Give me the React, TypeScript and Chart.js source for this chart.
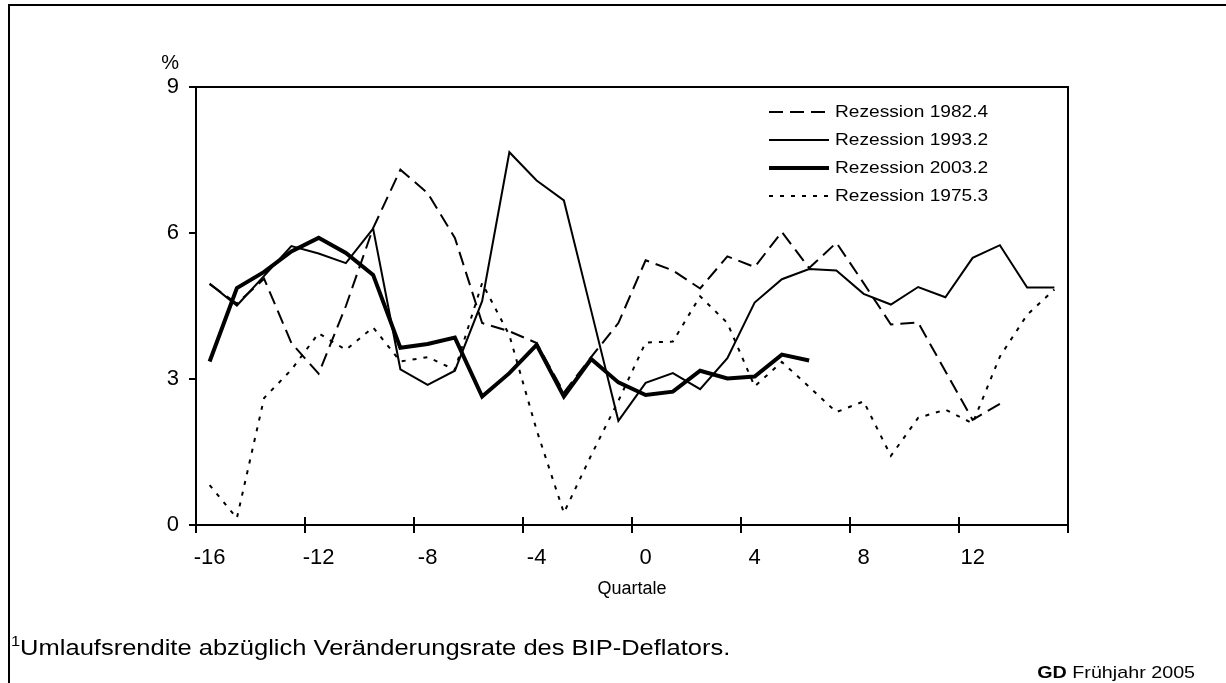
import React, { useEffect, useRef } from 'react';
import { Chart, registerables } from 'chart.js';

Chart.register(...registerables);

const FAMILY = "'Liberation Sans', Arial, sans-serif";

// Quarters relative to the recession (-16 .. 15)
const quarters = [
  -16, -15, -14, -13, -12, -11, -10, -9, -8, -7, -6, -5, -4, -3, -2, -1,
  0, 1, 2, 3, 4, 5, 6, 7, 8, 9, 10, 11, 12, 13, 14, 15,
];
const xTickLabels = ['-16', '-12', '-8', '-4', '0', '4', '8', '12', ''];
const yTicks = [0, 3, 6, 9];
const yUnit = '%';
const xTitle = 'Quartale';

const rez1982 = [
  4.95, 4.55, 5.06, 3.74, 3.11, 4.5, 6.1, 7.3, 6.82, 5.9, 4.15, 3.98, 3.74, 2.72, 3.45, 4.15,
  5.44, 5.23, 4.86, 5.52, 5.3, 6.02, 5.28, 5.8, 4.97, 4.12, 4.16, 3.16, 2.16, 2.49, null, null,
];
const rez1993 = [
  4.96, 4.51, 5.12, 5.73, 5.58, 5.38, 6.09, 3.2, 2.88, 3.17, 4.6, 7.66, 7.08, 6.67, 4.41, 2.14,
  2.92, 3.12, 2.79, 3.43, 4.57, 5.05, 5.26, 5.23, 4.75, 4.53, 4.89, 4.68, 5.49, 5.75, 4.88, 4.88,
];
const rez2003 = [
  3.36, 4.87, 5.2, 5.62, 5.9, 5.59, 5.14, 3.64, 3.72, 3.85, 2.64, 3.12, 3.7, 2.64, 3.41, 2.93,
  2.67, 2.74, 3.17, 3.01, 3.05, 3.5, 3.38, null, null, null, null, null, null, null, null, null,
];
const rez1975 = [
  0.82, 0.14, 2.61, 3.19, 3.94, 3.6, 4.06, 3.36, 3.45, 3.19, 4.97, 3.9, 1.95, 0.25, 1.43, 2.55,
  3.75, 3.77, 4.7, 4.15, 2.85, 3.35, 2.84, 2.32, 2.54, 1.42, 2.2, 2.37, 2.09, 3.46, 4.32, 4.84,
];

const toPoints = (vals: (number | null)[]) =>
  quarters
    .map((q, i) => ({ x: q, y: vals[i] }))
    .filter((p) => p.y !== null && p.y !== undefined);

const xTickValues = xTickLabels.map((l) => (l === '' ? 15.5 : Number(l) - 0.5));

const decorPlugin = {
  id: 'decor',
  afterDraw(chart: any) {
    const { ctx, chartArea: a, scales } = chart;
    ctx.save();
    ctx.strokeStyle = '#000';
    ctx.lineWidth = 2;
    ctx.setLineDash([]);
    ctx.strokeRect(a.left, a.top, a.right - a.left, a.bottom - a.top);
    const xs = scales.x;
    xs.ticks.forEach((t: any) => {
      const px = Math.round(xs.getPixelForValue(t.value));
      ctx.beginPath();
      ctx.moveTo(px, a.bottom);
      ctx.lineTo(px, a.bottom - 8);
      ctx.stroke();
    });
    ctx.fillStyle = '#000';
    ctx.font = `20px ${FAMILY}`;
    ctx.textAlign = 'right';
    ctx.textBaseline = 'middle';
    ctx.fillText(yUnit, a.left - 17, scales.y.getPixelForValue(9) - 24);

    chart.data.datasets.forEach((ds: any, i: number) => {
      const y = a.top + 25 + 28 * i;
      ctx.beginPath();
      ctx.lineWidth = ds.borderWidth;
      ctx.setLineDash(ds.borderDash || []);
      ctx.moveTo(a.right - 299, y);
      ctx.lineTo(a.right - 239, y);
      ctx.stroke();
      ctx.setLineDash([]);
      ctx.save();
      ctx.translate(a.right - 233, y);
      ctx.scale(1.16, 1);
      ctx.font = `16.5px ${FAMILY}`;
      ctx.textAlign = 'left';
      ctx.textBaseline = 'middle';
      ctx.fillText(ds.label, 0, 0);
      ctx.restore();
    });
    ctx.restore();
  },
};

export default function App() {
  const ref = useRef<HTMLCanvasElement | null>(null);

  useEffect(() => {
    if (!ref.current) return;
    Chart.defaults.font.family = FAMILY;
    Chart.defaults.color = '#000';
    const chart = new Chart(ref.current, {
      type: 'line',
      data: {
        datasets: [
          {
            label: 'Rezession 1982.4',
            data: toPoints(rez1982),
            borderColor: '#000',
            borderWidth: 2,
            borderDash: [14, 7],
            pointRadius: 0,
            order: 1,
          },
          {
            label: 'Rezession 1993.2',
            data: toPoints(rez1993),
            borderColor: '#000',
            borderWidth: 2,
            pointRadius: 0,
            order: 1,
          },
          {
            label: 'Rezession 2003.2',
            data: toPoints(rez2003),
            borderColor: '#000',
            borderWidth: 4,
            pointRadius: 0,
            order: 0,
          },
          {
            label: 'Rezession 1975.3',
            data: toPoints(rez1975),
            borderColor: '#000',
            borderWidth: 2,
            borderDash: [4, 7],
            pointRadius: 0,
            order: 1,
          },
        ],
      },
      options: {
        responsive: false,
        animation: false,
        devicePixelRatio: 1,
        layout: { padding: { left: 100, right: 158, top: 87, bottom: 78 } },
        plugins: { legend: { display: false }, tooltip: { enabled: false } },
        elements: { line: { tension: 0 } },
        scales: {
          x: {
            type: 'linear',
            min: -16.5,
            max: 15.5,
            afterBuildTicks: (s: any) => {
              s.ticks = xTickValues.map((v) => ({ value: v }));
            },
            afterFit: (s: any) => {
              s.height = 80;
            },
            ticks: {
              autoSkip: false,
              maxRotation: 0,
              labelOffset: 13.625,
              padding: 12,
              color: '#000',
              font: { size: 22 },
              callback: (_v: any, i: number) => xTickLabels[i] ?? '',
            },
            grid: {
              drawOnChartArea: false,
              drawTicks: true,
              tickLength: 8,
              color: '#000',
              lineWidth: 2,
            },
            border: { display: true, color: '#000', width: 2 },
            title: {
              display: true,
              text: xTitle,
              color: '#000',
              font: { size: 18 },
              padding: { top: 0, bottom: 5 },
            },
          },
          y: {
            min: 0,
            max: 9,
            afterBuildTicks: (s: any) => {
              s.ticks = yTicks.map((v) => ({ value: v }));
            },
            afterFit: (s: any) => {
              s.width = 96;
            },
            ticks: {
              padding: 10,
              color: '#000',
              font: { size: 22 },
            },
            grid: {
              drawOnChartArea: false,
              drawTicks: true,
              tickLength: 7,
              color: '#000',
              lineWidth: 2,
            },
            border: { display: true, color: '#000', width: 2 },
          },
        },
      },
      plugins: [decorPlugin],
    } as any);
    return () => chart.destroy();
  }, []);

  return (
    <div
      style={{
        position: 'absolute',
        left: 0,
        top: 0,
        width: 1226,
        height: 683,
        overflow: 'hidden',
        background: '#fff',
        fontFamily: FAMILY,
        color: '#000',
      }}
    >
      <div
        style={{
          position: 'absolute',
          left: 8,
          top: 4,
          width: 1300,
          height: 800,
          borderLeft: '2px solid #000',
          borderTop: '2px solid #000',
        }}
      />
      <canvas
        ref={ref}
        width={1226}
        height={683}
        style={{ position: 'absolute', left: 0, top: 0, width: 1226, height: 683 }}
      />
      <div
        style={{
          position: 'absolute',
          left: 11,
          top: 635,
          fontSize: 21.8,
          lineHeight: '26px',
          whiteSpace: 'nowrap',
          transform: 'scaleX(1.17)',
          transformOrigin: 'left center',
        }}
      >
        <span style={{ fontSize: 14, position: 'relative', top: -9 }}>1</span>
        Umlaufsrendite abzüglich Veränderungsrate des BIP-Deflators.
      </div>
      <div
        style={{
          position: 'absolute',
          right: 31,
          top: 662,
          fontSize: 17,
          lineHeight: '22px',
          whiteSpace: 'nowrap',
          transform: 'scaleX(1.16)',
          transformOrigin: 'right center',
        }}
      >
        <b>GD</b> Frühjahr 2005
      </div>
    </div>
  );
}
